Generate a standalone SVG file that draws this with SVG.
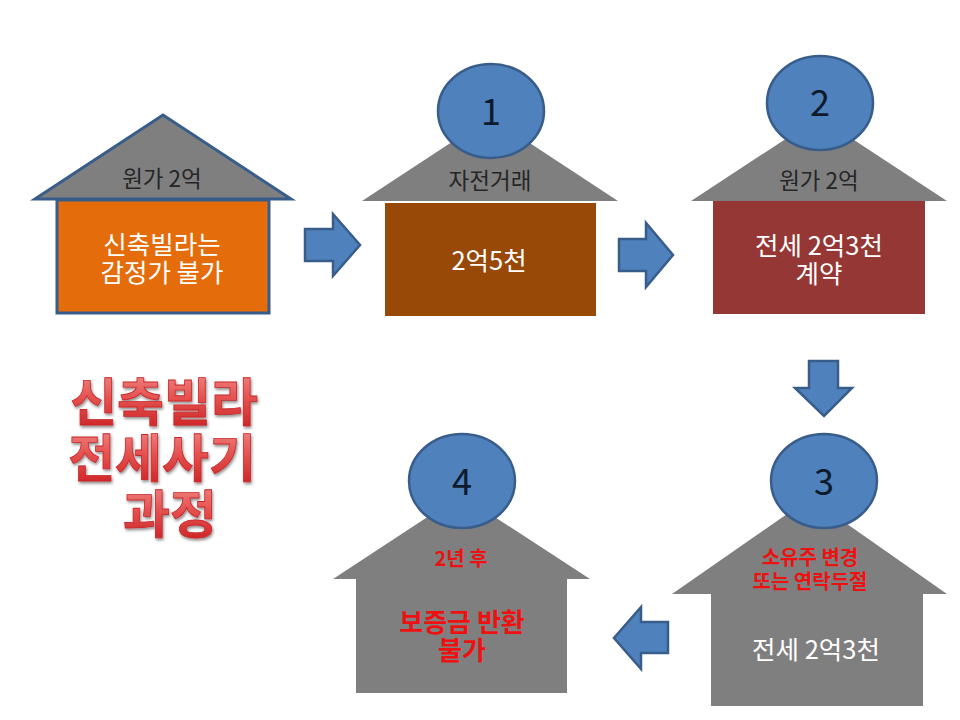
<svg xmlns="http://www.w3.org/2000/svg" width="960" height="720" viewBox="0 0 960 720">
<defs>
<linearGradient id="red" x1="0" y1="0" x2="0" y2="1"><stop offset="0" stop-color="#f49a98"/><stop offset="0.5" stop-color="#e4504e"/><stop offset="1" stop-color="#c8191c"/></linearGradient>
<filter id="sh" x="-10%" y="-10%" width="120%" height="130%"><feDropShadow dx="1" dy="2" stdDeviation="1.5" flood-color="#000" flood-opacity="0.45"/></filter>
</defs>
<style>
text{font-family:"Noto Sans CJK KR","Noto Sans",sans-serif;text-anchor:middle}
.g{fill:#7f7f7f}
.b{stroke:#385d8a;stroke-width:3}
.arrow,.circle{fill:#4f81bd;stroke:#385d8a;stroke-width:2.5}
.t{font-size:22.5px;fill:#262626}
.w{font-size:25.5px;fill:#fff}
.n{font-size:36px;fill:#0d1a2b}
.r{font-size:20px;font-weight:700;fill:#ee1111}
.rb{font-size:26px;font-weight:700;fill:#ee1111}
.title{font-size:51px;font-weight:700;fill:url(#red);stroke:#c8282a;stroke-width:.8;filter:url(#sh)}
</style>
<rect width="960" height="720" fill="#fff"/>
<g id="connectors">
<path class="arrow" d="M305 229H333V214L360 245L333 276V261H305Z"/>
<path class="arrow" d="M619 239H646V223L673 255L646 287V271H619Z"/>
<path class="arrow" d="M809 361V388H795L824 416L852 388H838V361Z"/>
<path class="arrow" d="M668 622H641V607L614 638L641 669V653H668Z"/>
</g>
<g id="node-start">
<path class="g b" d="M35 199L163 115L291 199Z"/>
<rect x="57" y="200" width="212" height="113" fill="#e46c0a" class="b"/>
<text class="t" x="162" y="187">원가 2억</text>
<text class="w" x="162" y="254">신축빌라는</text>
<text class="w" x="162" y="282">감정가 불가</text>
</g>
<g id="node-1">
<path class="g" d="M362 201L490 117L618 201Z"/>
<rect x="385" y="203" width="211" height="113" fill="#984807"/>
<ellipse class="circle" cx="491" cy="111" rx="53" ry="47"/>
<text class="n" x="491" y="125">1</text>
<text class="t" x="490" y="189">자전거래</text>
<text class="w" x="489" y="270">2억5천</text>
</g>
<g id="node-2">
<path class="g" d="M691 201L819 117L947 201Z"/>
<rect x="713" y="201" width="212" height="113" fill="#953735"/>
<ellipse class="circle" cx="820" cy="103" rx="53" ry="47"/>
<text class="n" x="820" y="116">2</text>
<text class="t" x="819" y="189">원가 2억</text>
<text class="w" x="819" y="255">전세 2억3천</text>
<text class="w" x="819" y="283">계약</text>
</g>
<g id="node-3">
<path class="g" d="M672 594L810 498L947 594Z"/>
<rect x="711" y="594" width="212" height="112" class="g"/>
<ellipse class="circle" cx="824" cy="481" rx="53" ry="47"/>
<text class="n" x="824" y="495">3</text>
<text class="r" x="810" y="565">소유주 변경</text>
<text class="r" x="810" y="589">또는 연락두절</text>
<text class="w" x="816" y="659">전세 2억3천</text>
</g>
<g id="node-4">
<path class="g" d="M333 579L461 495L590 579Z"/>
<rect x="356" y="579" width="211" height="114" class="g"/>
<ellipse class="circle" cx="462" cy="481" rx="53" ry="47"/>
<text class="n" x="462" y="495">4</text>
<text class="r" x="461" y="566">2년 후</text>
<text class="rb" x="462" y="632">보증금 반환</text>
<text class="rb" x="462" y="660">불가</text>
</g>
<g id="title">
<text class="title" x="164" y="421">신축빌라</text>
<text class="title" x="162" y="477">전세사기</text>
<text class="title" x="170" y="533">과정</text>
</g>
</svg>
